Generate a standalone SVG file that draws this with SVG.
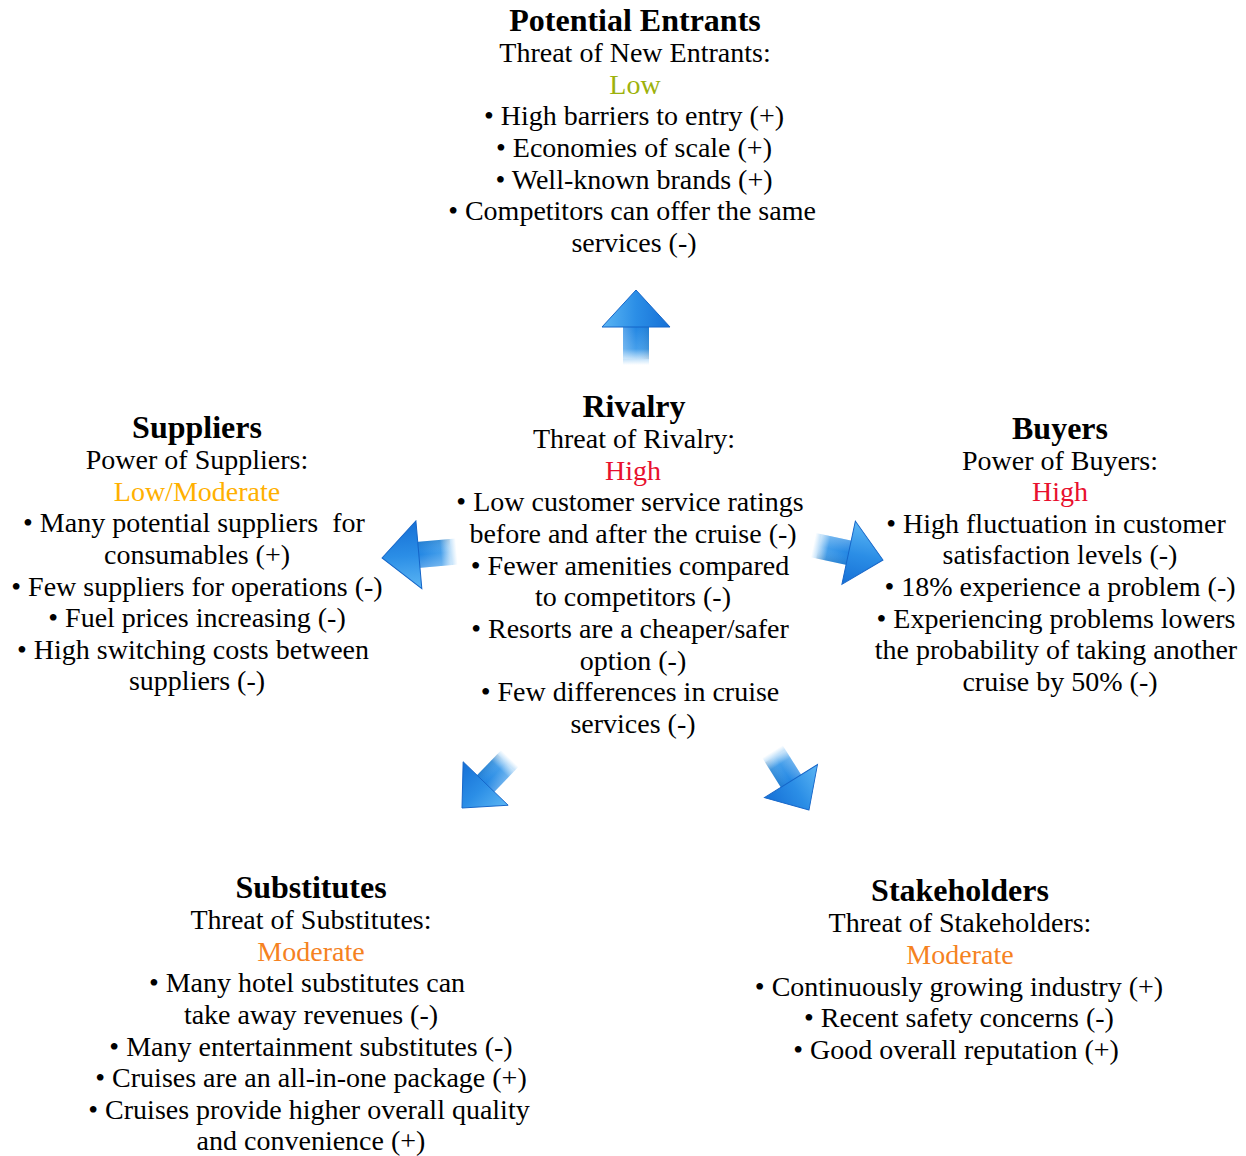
<svg xmlns="http://www.w3.org/2000/svg" width="1246" height="1156" viewBox="0 0 1246 1156">
<style>
text{font-family:"Liberation Serif","Times New Roman",serif;font-size:28px;fill:#000;text-anchor:middle}
.t{font-weight:bold;font-size:32px}
.low{fill:#9db20c}
.lm{fill:#ffb000}
.hi{fill:#e8102e}
.mod{fill:#f5821f}
</style>
<defs>
<linearGradient id="hg" x1="0" y1="0" x2="1" y2="0">
<stop offset="0" stop-color="#5cb6f4"/>
<stop offset="0.5" stop-color="#2b8ee6"/>
<stop offset="1" stop-color="#1670d6"/>
</linearGradient>
<linearGradient id="sg" x1="0" y1="0" x2="0" y2="1">
<stop offset="0" stop-color="#1f84e2" stop-opacity="1"/>
<stop offset="0.6" stop-color="#2f93e8" stop-opacity="0.9"/>
<stop offset="1" stop-color="#5ab0f2" stop-opacity="0"/>
</linearGradient>
<linearGradient id="sh" x1="0" y1="0" x2="1" y2="0">
<stop offset="0" stop-color="#ffffff" stop-opacity="0.25"/>
<stop offset="0.5" stop-color="#ffffff" stop-opacity="0"/>
<stop offset="1" stop-color="#000000" stop-opacity="0.08"/>
</linearGradient>
<g id="arr">
<rect x="-13" y="35" width="26" height="40" fill="url(#sg)"/>
<rect x="-13" y="35" width="26" height="34" fill="url(#sh)"/>
<polygon points="0,0 34,37 -34,37" fill="url(#hg)" stroke="#1565c8" stroke-width="1"/>
</g>
</defs>
<g id="connectors">
<use href="#arr" transform="translate(636,290)"/>
<use href="#arr" transform="translate(382,558) rotate(-95)"/>
<use href="#arr" transform="translate(883,560) rotate(102) scale(0.95)"/>
<use href="#arr" transform="translate(462,808) rotate(-136) scale(0.92)"/>
<use href="#arr" transform="translate(809,810) rotate(148) scale(0.92)"/>
</g>
<g id="entrants">
<text class="t" x="635" y="31">Potential Entrants</text>
<text x="635" y="62">Threat of New Entrants:</text>
<text class="low" x="635" y="94">Low</text>
<text x="634" y="125">• High barriers to entry (+)</text>
<text x="634" y="157">• Economies of scale (+)</text>
<text x="634" y="189">• Well-known brands (+)</text>
<text x="632" y="220">• Competitors can offer the same</text>
<text x="634" y="252">services (-)</text>
</g>
<g id="rivalry">
<text class="t" x="634" y="417">Rivalry</text>
<text x="634" y="448">Threat of Rivalry:</text>
<text class="hi" x="633" y="480">High</text>
<text x="630" y="511">• Low customer service ratings</text>
<text x="633" y="543">before and after the cruise (-)</text>
<text x="630" y="575">• Fewer amenities compared</text>
<text x="633" y="606">to competitors (-)</text>
<text x="630" y="638">• Resorts are a cheaper/safer</text>
<text x="633" y="670">option (-)</text>
<text x="630" y="701">• Few differences in cruise</text>
<text x="633" y="733">services (-)</text>
</g>
<g id="suppliers">
<text class="t" x="197" y="438">Suppliers</text>
<text x="197" y="469">Power of Suppliers:</text>
<text class="lm" x="197" y="501">Low/Moderate</text>
<text x="194" y="532">• Many potential suppliers &#160;for</text>
<text x="197" y="564">consumables (+)</text>
<text x="197" y="596">• Few suppliers for operations (-)</text>
<text x="197" y="627">• Fuel prices increasing (-)</text>
<text x="193" y="659">• High switching costs between</text>
<text x="197" y="690">suppliers (-)</text>
</g>
<g id="buyers">
<text class="t" x="1060" y="439">Buyers</text>
<text x="1060" y="470">Power of Buyers:</text>
<text class="hi" x="1060" y="501">High</text>
<text x="1056" y="533">• High fluctuation in customer</text>
<text x="1060" y="564">satisfaction levels (-)</text>
<text x="1060" y="596">• 18% experience a problem (-)</text>
<text x="1056" y="628">• Experiencing problems lowers</text>
<text x="1056" y="659">the probability of taking another</text>
<text x="1060" y="691">cruise by 50% (-)</text>
</g>
<g id="substitutes">
<text class="t" x="311" y="898">Substitutes</text>
<text x="311" y="929">Threat of Substitutes:</text>
<text class="mod" x="311" y="961">Moderate</text>
<text x="307" y="992">• Many hotel substitutes can</text>
<text x="311" y="1024">take away revenues (-)</text>
<text x="311" y="1056">• Many entertainment substitutes (-)</text>
<text x="311" y="1087">• Cruises are an all-in-one package (+)</text>
<text x="309" y="1119">• Cruises provide higher overall quality</text>
<text x="311" y="1150">and convenience (+)</text>
</g>
<g id="stakeholders">
<text class="t" x="960" y="901">Stakeholders</text>
<text x="960" y="932">Threat of Stakeholders:</text>
<text class="mod" x="960" y="964">Moderate</text>
<text x="959" y="996">• Continuously growing industry (+)</text>
<text x="959" y="1027">• Recent safety concerns (-)</text>
<text x="956" y="1059">• Good overall reputation (+)</text>
</g>
</svg>
